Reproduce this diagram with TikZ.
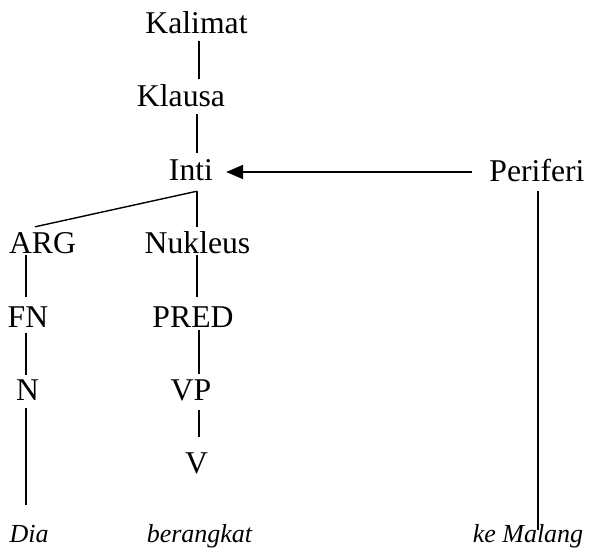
\documentclass[tikz,border=0pt]{standalone}
\usepackage{fontspec}
\setmainfont{Liberation Serif}
\usetikzlibrary{arrows.meta}
\begin{document}
\begin{tikzpicture}[x=1pt,y=1pt,
  lbl/.style={font=\fontsize{31.7}{38}\selectfont, inner sep=0pt, text height=22pt, text depth=0pt, anchor=base},
  word/.style={font=\fontsize{26}{31}\selectfont\itshape, inner sep=0pt, text height=18pt, text depth=0pt, anchor=base},
  branch/.style={line width=1.4pt},
  link/.style={line width=2.2pt, -{Triangle[length=17pt,width=14pt]}}]
\useasboundingbox (0,-552) rectangle (589,0);
% guide coordinates for vertical branch lines
\coordinate (colA) at (26,0);
\coordinate (colB) at (197,0);
\coordinate (colBr) at (199,0);
\coordinate (colC) at (538,0);
% nodes
\node[lbl] (kalimat)  at (196.5,-33) {Kalimat};
\node[lbl] (klausa)   at (181,-106) {Klausa};
\node[lbl] (inti)     at (191,-180) {Inti};
\node[lbl] (periferi) at (537,-181) {Periferi};
\node[lbl] (arg)      at (42.5,-253) {ARG};
\node[lbl] (nukleus)  at (197.5,-253) {Nukleus};
\node[lbl] (fn)       at (28,-327) {FN};
\node[lbl] (pred)     at (193,-327) {PRED};
\node[lbl] (n)        at (27.5,-400) {N};
\node[lbl] (vp)       at (191,-400) {VP};
\node[lbl] (v)        at (196.5,-473) {V};
\node[word] (dia)     at (29,-542) {Dia};
\node[word] (berangkat) at (199.5,-542) {berangkat};
\node[word] (kemalang)  at (528,-542) {ke Malang};
% connectors
\draw[branch, shorten <=8pt, shorten >=5pt] (kalimat.south -| colBr) -- (klausa.north -| colBr);
\draw[branch, shorten <=8pt, shorten >=5pt] (klausa.south -| colB) -- (inti.north -| colB);
\draw[branch] ([xshift=6pt,yshift=-11pt]inti.south) -- ([xshift=-7.5pt,yshift=4pt]arg.north);
\draw[branch, shorten <=11pt, shorten >=4pt] (inti.south -| colB) -- (nukleus.north -| colB);
\draw[branch, shorten <=2pt, shorten >=8pt] (arg.south -| colA) -- (fn.north -| colA);
\draw[branch, shorten <=2pt, shorten >=8pt] (nukleus.south -| colB) -- (pred.north -| colB);
\draw[branch, shorten <=6pt, shorten >=3pt] (fn.south -| colA) -- (n.north -| colA);
\draw[branch, shorten <=3pt, shorten >=4pt] (pred.south -| colBr) -- (vp.north -| colBr);
\draw[branch, shorten <=8pt, shorten >=19pt] (n.south -| colA) -- (dia.north -| colA);
\draw[branch, shorten <=10pt, shorten >=14pt] (vp.south -| colBr) -- (v.north -| colBr);
\draw[branch, shorten <=10pt, shorten >=-6pt] (periferi.south -| colC) -- (kemalang.north -| colC);
\draw[link, shorten <=17pt, shorten >=13pt] ([yshift=9pt]periferi.base west) -- ([yshift=8pt]inti.base east);
\end{tikzpicture}
\end{document}
